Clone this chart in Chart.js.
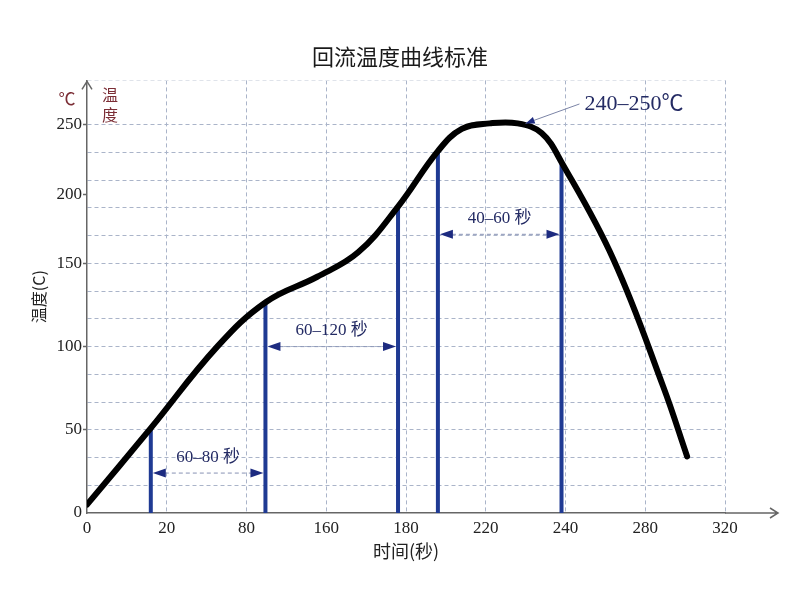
<!DOCTYPE html>
<html>
<head>
<meta charset="utf-8">
<script src="https://cdn.jsdelivr.net/npm/chart.js@4/dist/chart.umd.min.js"></script>
<style>
  html, body { margin: 0; padding: 0; background: #fff; }
  #wrap { width: 800px; height: 600px; }
</style>
</head>
<body>
<div id="wrap"><canvas id="reflowChart"></canvas></div>
<script>
// axis labels (the picture spaces them evenly, not by value)
const timeTicks = [0, 20, 80, 160, 180, 220, 240, 280, 320];
const tempTicks = [0, 50, 100, 150, 200, 250];
const tempTickRow = [0, 3, 6, 9, 11.5, 14]; // grid row where each temperature label sits
const gridRows = 14;

// reflow curve (seconds, °C)
const curveTime = [0, 16, 58, 100, 151, 168, 178, 196, 208, 221, 228, 234, 239, 264, 289, 301];
const curveTemp = [5, 51, 100, 127, 142, 158, 191, 231, 247, 251, 251, 244, 223, 153, 76, 34];

// blue phase markers
const markerTime = [16, 99, 178, 196, 239];
const markerTemp = [51, 126, 191, 231, 223];

// dimension spans between markers
const spanFrom = [0, 1, 3];
const spanTo = [1, 2, 4];
const spanTemp = [24, 100, 171];
const spanLabels = ['60–80 秒', '60–120 秒', '40–60 秒'];

// peak note
const peakLabel = '240–250℃';
const peakNoteAt = [247, 265];
const peakPointAt = [230, 251];

function interp(v, xs, ys) {
  for (let i = 1; i < xs.length; i++) {
    if (v <= xs[i] || i === xs.length - 1) {
      const f = (v - xs[i - 1]) / (xs[i] - xs[i - 1]);
      return ys[i - 1] + f * (ys[i] - ys[i - 1]);
    }
  }
  return ys[0];
}
const timeSlots = timeTicks.map((_, i) => i);
const toX = t => interp(t, timeTicks, timeSlots);
const toY = T => interp(T, tempTicks, tempTickRow);

const gridColor = '#aab4c9';
const navy = '#232a63';
const markerBlue = '#1f3a93';
const serif = '"Liberation Serif", "Noto Sans CJK SC", serif';
const cjk = '"Noto Sans CJK SC", sans-serif';

const datasets = [{
  label: '温度',
  data: curveTime.map((t, i) => ({ x: toX(t), y: toY(curveTemp[i]) })),
  borderColor: '#000',
  borderWidth: 6,
  borderCapStyle: 'round',
  borderJoinStyle: 'round',
  tension: 0.4,
  pointRadius: 0,
  order: 0
}];
markerTime.forEach((t, i) => {
  datasets.push({
    label: 'm' + i,
    data: [{ x: toX(t), y: 0 }, { x: toX(t), y: toY(markerTemp[i]) }],
    borderColor: markerBlue,
    borderWidth: 4,
    pointRadius: 0,
    order: 1
  });
});

const extras = {
  id: 'extras',
  afterDatasetsDraw(chart) {
    const { ctx, chartArea: a, scales: { x, y } } = chart;
    const px = t => x.getPixelForValue(toX(t));
    const py = T => y.getPixelForValue(toY(T));
    ctx.save();

    // axis arrows
    ctx.strokeStyle = '#666';
    ctx.lineWidth = 1.5;
    ctx.beginPath();
    ctx.moveTo(a.right, a.bottom);
    ctx.lineTo(a.right + 53, a.bottom);
    ctx.moveTo(a.right + 45, a.bottom - 5);
    ctx.lineTo(a.right + 53, a.bottom);
    ctx.lineTo(a.right + 45, a.bottom + 5);
    ctx.moveTo(a.left - 5, a.top + 9);
    ctx.lineTo(a.left, a.top + 1);
    ctx.lineTo(a.left + 5, a.top + 9);
    ctx.stroke();

    // spans with arrows
    spanFrom.forEach((fi, n) => {
      const x1 = px(markerTime[fi]) + 2;
      const x2 = px(markerTime[spanTo[n]]) - 2;
      const yy = py(spanTemp[n]);
      ctx.strokeStyle = '#8792b4';
      ctx.lineWidth = 1;
      ctx.setLineDash([4, 3]);
      ctx.beginPath();
      ctx.moveTo(x1 + 12, yy);
      ctx.lineTo(x2 - 12, yy);
      ctx.stroke();
      ctx.setLineDash([]);
      ctx.fillStyle = '#1d2b80';
      ctx.beginPath();
      ctx.moveTo(x1, yy); ctx.lineTo(x1 + 13, yy - 4.5); ctx.lineTo(x1 + 13, yy + 4.5);
      ctx.closePath();
      ctx.moveTo(x2, yy); ctx.lineTo(x2 - 13, yy - 4.5); ctx.lineTo(x2 - 13, yy + 4.5);
      ctx.closePath();
      ctx.fill();
      ctx.fillStyle = navy;
      ctx.font = '17px ' + serif;
      ctx.textAlign = 'center';
      ctx.textBaseline = 'middle';
      ctx.fillText(spanLabels[n], (x1 + x2) / 2, yy - 16);
    });

    // peak note
    const sx = px(peakNoteAt[0]), sy = py(peakNoteAt[1]);
    const ex = px(peakPointAt[0]), ey = py(peakPointAt[1]);
    ctx.strokeStyle = '#7b84a6';
    ctx.lineWidth = 1;
    ctx.beginPath();
    ctx.moveTo(sx, sy);
    ctx.lineTo(ex, ey);
    ctx.stroke();
    const ang = Math.atan2(ey - sy, ex - sx);
    ctx.fillStyle = '#1d2b80';
    ctx.beginPath();
    ctx.moveTo(ex, ey);
    ctx.lineTo(ex - 9 * Math.cos(ang) + 3.5 * Math.sin(ang), ey - 9 * Math.sin(ang) - 3.5 * Math.cos(ang));
    ctx.lineTo(ex - 9 * Math.cos(ang) - 3.5 * Math.sin(ang), ey - 9 * Math.sin(ang) + 3.5 * Math.cos(ang));
    ctx.closePath();
    ctx.fill();
    ctx.fillStyle = navy;
    ctx.font = '22px ' + serif;
    ctx.textAlign = 'left';
    ctx.textBaseline = 'middle';
    ctx.fillText(peakLabel, sx + 5, sy);

    // unit marks at the top of the y axis
    ctx.fillStyle = '#7b2d35';
    ctx.font = '17px ' + serif;
    ctx.textAlign = 'center';
    ctx.fillText('℃', a.left - 20, a.top + 20);
    ctx.font = '16px ' + cjk;
    ctx.fillText('温', a.left + 23, a.top + 15);
    ctx.fillText('度', a.left + 23, a.top + 35);
    ctx.restore();
  }
};

new Chart(document.getElementById('reflowChart'), {
  type: 'line',
  data: { datasets: datasets },
  plugins: [extras],
  options: {
    responsive: true,
    maintainAspectRatio: false,
    animation: false,
    layout: { padding: 0 },
    plugins: {
      legend: { display: false },
      tooltip: { enabled: false },
      title: {
        display: true,
        text: '回流温度曲线标准',
        color: '#1a1a1a',
        font: { family: cjk, size: 22, weight: 'normal', lineHeight: 1.2 },
        padding: { top: 43, bottom: 11 }
      }
    },
    scales: {
      x: {
        type: 'linear',
        min: 0,
        max: timeTicks.length - 1,
        afterBuildTicks: s => { s.ticks = timeSlots.map(v => ({ value: v })); },
        afterFit: s => { s.height = 87; },
        ticks: {
          autoSkip: false,
          maxRotation: 0,
          padding: 5,
          color: '#222',
          font: { family: serif, size: 17 },
          callback: v => timeTicks[v]
        },
        grid: {
          color: c => c.tick && c.tick.value === 0 ? 'transparent' : gridColor,
          lineWidth: 1,
          drawTicks: false
        },
        border: { display: true, color: '#666', width: 1.5, dash: [4, 3] },
        title: {
          display: true,
          text: '时间(秒)',
          color: '#222',
          font: { family: cjk, size: 18 },
          padding: { top: 0, bottom: 38 }
        }
      },
      y: {
        type: 'linear',
        min: 0,
        max: 15.6,
        afterBuildTicks: s => {
          const vals = [];
          for (let i = 0; i <= gridRows; i++) vals.push(i);
          vals.push(11.5, 15.6);
          vals.sort((p, q) => p - q);
          s.ticks = vals.map(v => ({ value: v }));
        },
        afterFit: s => { s.width = 87; },
        ticks: {
          autoSkip: false,
          padding: 1,
          color: '#222',
          font: { family: serif, size: 17 },
          callback: v => {
            const i = tempTickRow.indexOf(v);
            return i >= 0 ? tempTicks[i] : '';
          }
        },
        grid: {
          color: c => {
            const v = c.tick ? c.tick.value : 0;
            if (v === 0 || v === 11.5) return 'transparent';
            if (v > gridRows) return '#dfe3ea';
            return gridColor;
          },
          lineWidth: 1,
          tickLength: 4,
          tickWidth: 1.5,
          tickColor: c => c.tick && tempTickRow.indexOf(c.tick.value) > 0 ? '#666' : 'transparent'
        },
        border: { display: true, color: '#666', width: 1.5, dash: [4, 3] },
        title: {
          display: true,
          text: '温度(C)',
          color: '#222',
          font: { family: cjk, size: 16 },
          padding: { top: 29, bottom: 0 }
        }
      },
      // empty right-hand margin, leaves room for the axis arrow
      pad: {
        type: 'linear',
        position: 'right',
        display: true,
        grid: { display: false },
        ticks: { display: false },
        border: { display: false },
        afterFit: s => { s.width = 75; }
      }
    }
  }
});
</script>
</body>
</html>
